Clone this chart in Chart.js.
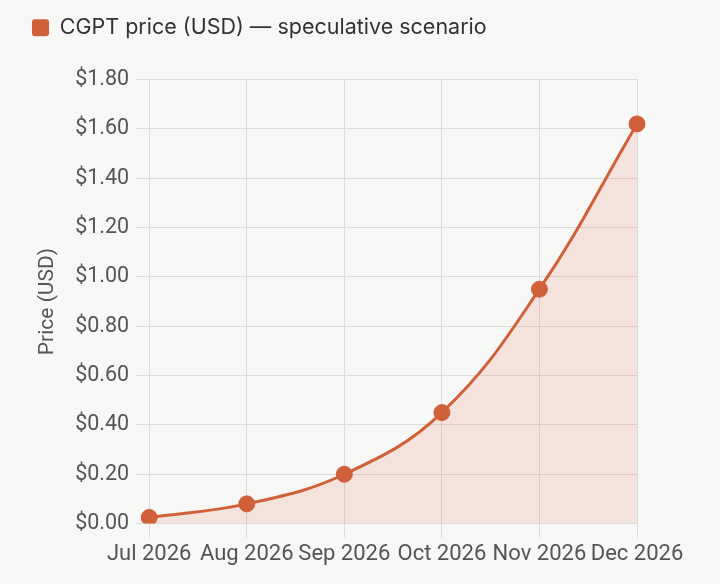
<!DOCTYPE html>
<html lang="en">
<head>
    <meta charset="UTF-8">
    <title>CGPT price scenario</title>
    <script src="https://cdn.jsdelivr.net/npm/chart.js"></script>
    <style>
        html, body {
            margin: 0;
            padding: 0;
            background-color: #f7f7f6;
        }
        .chart-container {
            position: relative;
            width: 720px;
            height: 584px;
        }
    </style>
</head>
<body>
    <div class="chart-container">
        <canvas id="priceChart"></canvas>
    </div>

    <script>
        // months on the x axis
        const months = ['Jul 2026', 'Aug 2026', 'Sep 2026', 'Oct 2026', 'Nov 2026', 'Dec 2026'];
        // price per month, USD
        const prices = [0.025, 0.08, 0.20, 0.45, 0.95, 1.62];
        const seriesLabel = 'CGPT price (USD) — speculative scenario';
        const yTitle = 'Price (USD)';

        const lineColor = '#d0603a';
        const gridColor = '#dcdad8';
        const textColor = '#555555';

        // extra gap under the legend
        const legendGap = {
            id: 'legendGap',
            beforeInit(chart) {
                const fit = chart.legend.fit;
                chart.legend.fit = function () {
                    fit.bind(chart.legend)();
                    this.height += 31;
                };
            }
        };

        const ctx = document.getElementById('priceChart').getContext('2d');
        const priceChart = new Chart(ctx, {
            type: 'line',
            data: {
                labels: months,
                datasets: [{
                    label: seriesLabel,
                    data: prices,
                    borderColor: lineColor,
                    backgroundColor: 'rgba(226, 110, 74, 0.15)',
                    borderWidth: 3,
                    fill: true,
                    tension: 0.4,
                    pointRadius: 8,
                    pointHoverRadius: 8,
                    pointBackgroundColor: lineColor,
                    pointBorderColor: lineColor,
                    pointBorderWidth: 1
                }]
            },
            options: {
                responsive: true,
                maintainAspectRatio: false,
                animation: false,
                layout: {
                    padding: { left: 15, right: 83, top: 0, bottom: 12 }
                },
                plugins: {
                    legend: {
                        align: 'start',
                        labels: {
                            color: '#333333',
                            font: { family: 'Inter', size: 21.5 },
                            boxWidth: 17,
                            boxHeight: 17,
                            padding: 17,
                            useBorderRadius: true,
                            borderRadius: 3,
                            generateLabels: chart => {
                                const items = Chart.defaults.plugins.legend.labels.generateLabels(chart);
                                items.forEach(i => {
                                    i.fillStyle = lineColor;
                                    i.strokeStyle = lineColor;
                                    i.lineWidth = 0;
                                    i.borderRadius = 3;
                                });
                                return items;
                            }
                        }
                    },
                    tooltip: { enabled: false }
                },
                scales: {
                    x: {
                        offset: false,
                        grid: { color: gridColor, tickLength: 14 },
                        border: { color: gridColor },
                        ticks: {
                            color: textColor,
                            font: { family: 'Roboto', size: 22 },
                            maxRotation: 0,
                            autoSkip: false,
                            padding: 4
                        }
                    },
                    y: {
                        min: 0,
                        max: 1.8,
                        grid: { color: gridColor, tickLength: 13 },
                        border: { color: gridColor },
                        title: {
                            display: true,
                            text: yTitle,
                            color: textColor,
                            font: { family: 'Roboto', size: 21 },
                            padding: { top: 20, bottom: 8 }
                        },
                        ticks: {
                            stepSize: 0.2,
                            color: textColor,
                            font: { family: 'Roboto', size: 21.5 },
                            padding: 7,
                            callback: v => '$' + Number(v).toFixed(2)
                        }
                    }
                }
            },
            plugins: [legendGap]
        });
    </script>
</body>
</html>
